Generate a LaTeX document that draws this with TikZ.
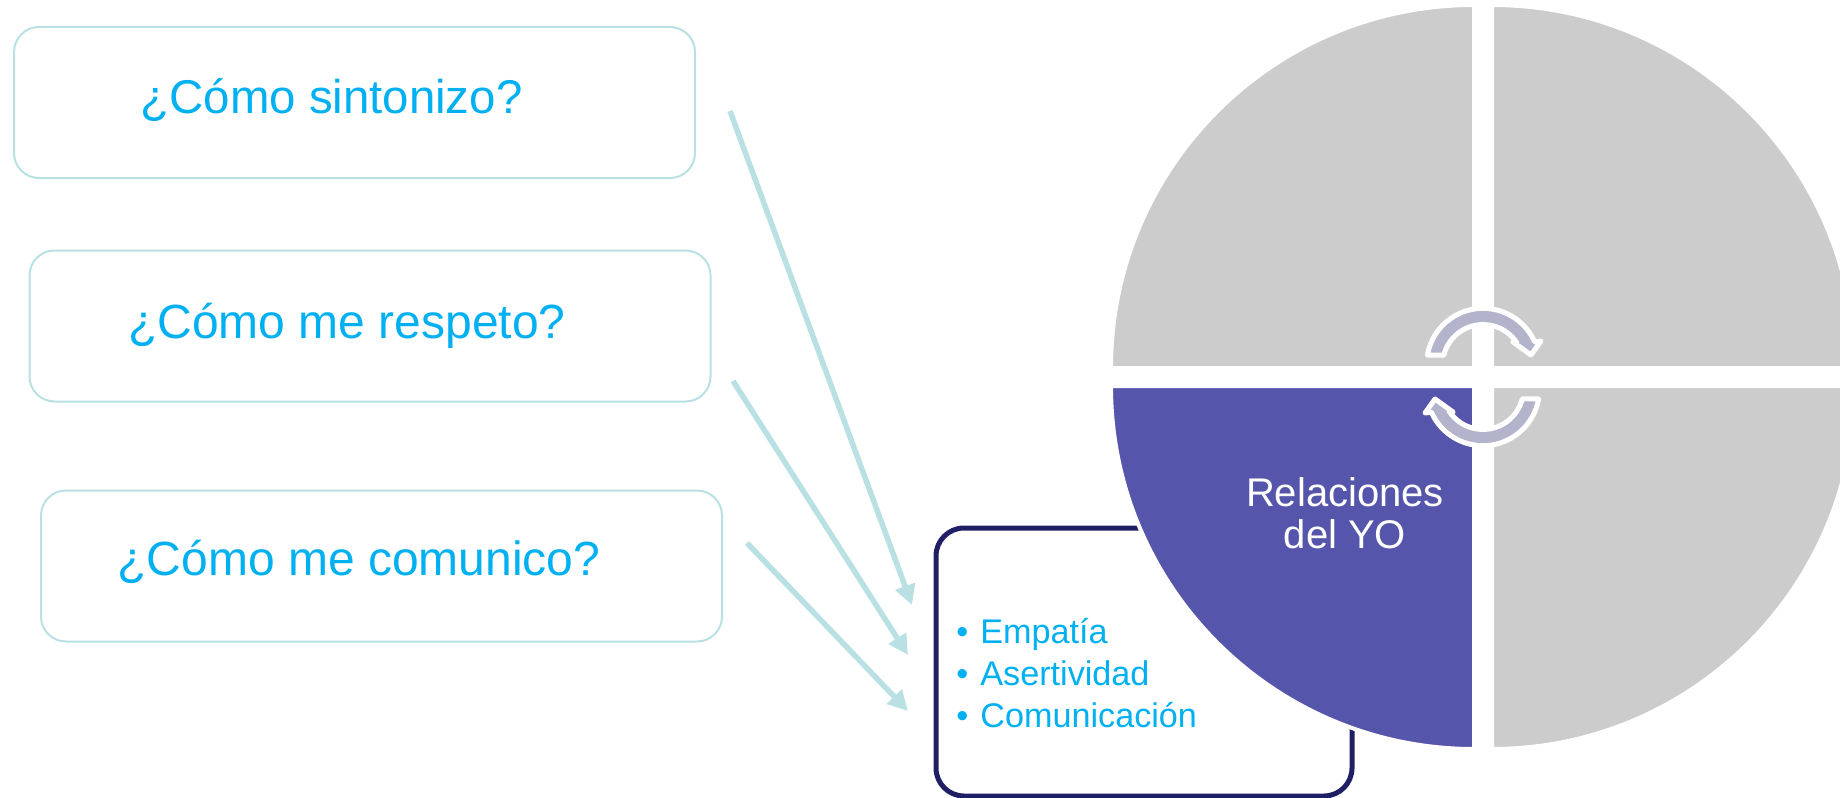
\documentclass[tikz,border=0pt]{standalone}
\usepackage{fontspec}
\setmainfont{Liberation Sans}
\usetikzlibrary{arrows.meta}

\definecolor{skytext}{HTML}{00B0F0}
\definecolor{paleteal}{HTML}{B9E0E3}
\definecolor{navyline}{HTML}{1F1F66}
\definecolor{wedgegray}{HTML}{CCCCCC}
\definecolor{wedgeblue}{HTML}{5555AB}
\definecolor{turnfill}{HTML}{B3B3CC}

\tikzset{
  askbox/.style={draw=paleteal, line width=1pt, rounded corners=12.5pt, minimum width=340.5pt, minimum height=75.5pt},
  asktext/.style={anchor=base, inner sep=0pt, text=skytext, font=\fontsize{24}{28}\selectfont},
  itemtext/.style={anchor=base west, inner sep=0pt, text=skytext, font=\fontsize{17.1}{21}\selectfont},
  link/.style={draw=paleteal, line width=2.75pt, -{Triangle[length=10pt,width=10pt]}},
  wedge/.style={draw=white, line width=2pt, fill=#1},
  turnband/.style={draw=white, line width=2.5pt, line join=round, fill=turnfill}
}

\newcommand{\turnpath}{(1427.4,-355) arc[start angle=170, end angle=24, radius=28.25pt]
  -- (1541,-341) -- (1531,-355) -- (1513,-342) -- (1517,-343)
  arc[start angle=33, end angle=166, radius=20.25pt] -- cycle}

\begin{document}
\begin{tikzpicture}[x=0.5pt, y=0.5pt]
      \path [use as bounding box, clip] (0, 0) rectangle (1840, -797);

      \node [askbox] (tune) at (354.5, -102.5) {};
      \node [askbox] (respect) at (370, -326) {};
      \node [askbox] (talk) at (381.5, -566) {};
      \node [asktext, font=\fontsize{23.7}{28}\selectfont] (tunetext) at (331.5, -113) {¿Cómo sintonizo?};
      \node [asktext] (respecttext) at (347, -338) {¿Cómo me respeto?};
      \node [asktext] (talktext) at (359, -575) {¿Cómo me comunico?};

      \coordinate (tunefrom) at (730, -111);
      \coordinate (tuneto) at (912, -605);
      \coordinate (respectfrom) at (733, -381);
      \coordinate (respectto) at (908, -655);
      \coordinate (talkfrom) at (747, -543);
      \coordinate (talkto) at (908, -711);

      \draw [link] (tunefrom) -- (tuneto);
      \draw [link] (respectfrom) -- (respectto);
      \draw [link] (talkfrom) -- (talkto);

      \node [draw=navyline, line width=2.5pt, rounded corners=14pt, minimum width=208pt, minimum height=134pt] (skills) at (1144, -662) {};
      \node [itemtext] (empathy) at (956, -643) {•\hspace{6pt}Empatía};
      \node [itemtext] (assert) at (956, -685) {•\hspace{6pt}Asertividad};
      \node [itemtext] (comm) at (956, -727) {•\hspace{6pt}Comunicación};

      \draw [wedge=wedgegray] (1474, -368) -- (1111, -368) arc[start angle=180, end angle=90, radius=181.5pt] -- cycle;
      \draw [wedge=wedgegray] (1492, -368) -- (1492, -5) arc[start angle=90, end angle=0, radius=181.5pt] -- cycle;
      \draw [wedge=wedgegray] (1492, -386) -- (1855, -386) arc[start angle=0, end angle=-90, radius=181.5pt] -- cycle;
      \draw [wedge=wedgeblue] (1474, -386) -- (1474, -749) arc[start angle=270, end angle=180, radius=181.5pt] -- cycle;

      \draw [turnband] \turnpath;
      \draw [turnband, rotate around={180:(1483, -377)}] \turnpath;

      \node [align=center, text=white, font=\fontsize{20}{21}\selectfont] (self) at (1345, -513) {Relaciones\\del YO};
\end{tikzpicture}
\end{document}
